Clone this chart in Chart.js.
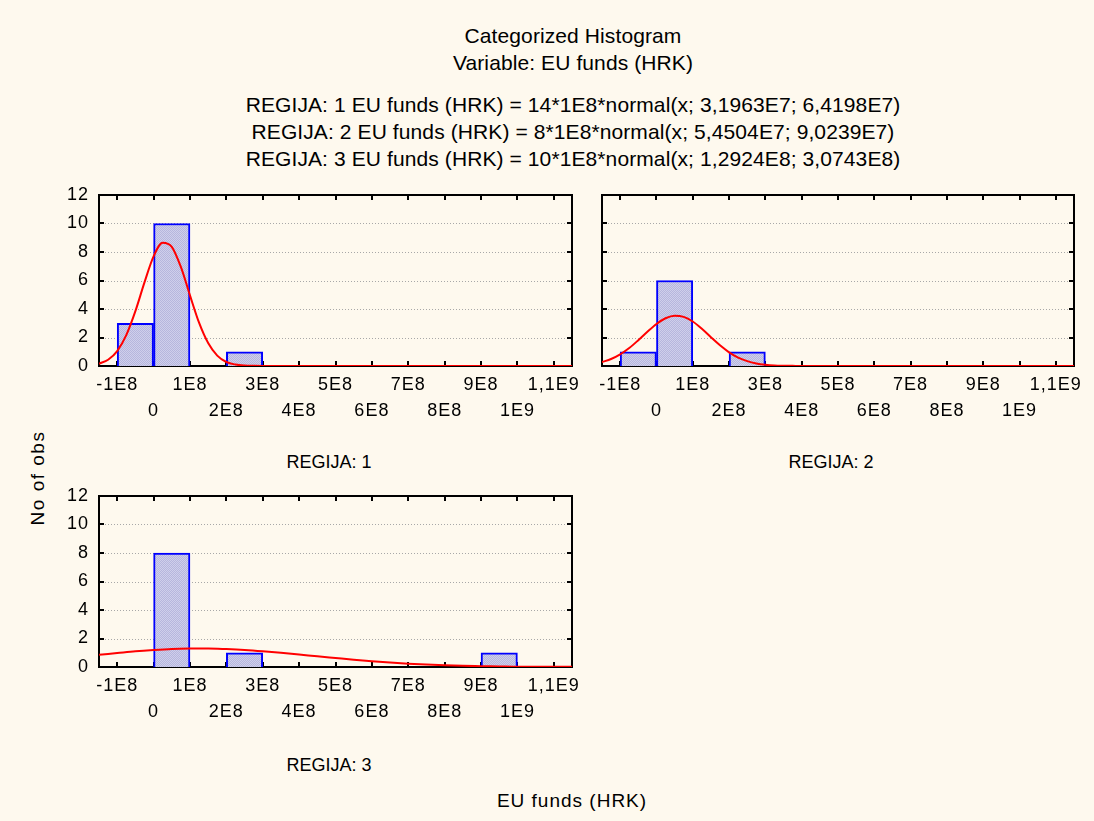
<!DOCTYPE html>
<html><head><meta charset="utf-8">
<script src="https://cdn.jsdelivr.net/npm/chart.js@4.4.0/dist/chart.umd.min.js"></script>
<style>
html,body{margin:0;padding:0;background:#FEF9EE;}
body{width:1094px;height:821px;position:relative;overflow:hidden;font-family:"Liberation Sans",Arial,sans-serif;color:#000;}
.t{position:absolute;white-space:nowrap;transform:translate(-50%,-50%);line-height:1;}
.title{font-size:21px;letter-spacing:0.1px;}
.lab{font-size:18px;}
.lab2{font-size:19px;letter-spacing:1px;}
canvas{position:absolute;}
</style></head><body>
<div class="t title" style="left:573px;top:35px;">Categorized Histogram</div>
<div class="t title" style="left:573px;top:62px;">Variable: EU funds (HRK)</div>
<div class="t title" style="left:573px;top:104px;">REGIJA: 1 EU funds (HRK) = 14*1E8*normal(x; 3,1963E7; 6,4198E7)</div>
<div class="t title" style="left:573px;top:131px;">REGIJA: 2 EU funds (HRK) = 8*1E8*normal(x; 5,4504E7; 9,0239E7)</div>
<div class="t title" style="left:573px;top:158px;">REGIJA: 3 EU funds (HRK) = 10*1E8*normal(x; 1,2924E8; 3,0743E8)</div>
<div class="t lab" style="left:329px;top:462px;">REGIJA: 1</div>
<div class="t lab" style="left:831px;top:462px;">REGIJA: 2</div>
<div class="t lab" style="left:329px;top:765px;">REGIJA: 3</div>
<div class="t lab2" style="left:572px;top:800px;">EU funds (HRK)</div>
<div class="t lab2" style="left:37px;top:478px;letter-spacing:1.5px;transform:translate(-50%,-50%) rotate(-90deg);">No of obs</div>
<canvas id="c1" width="580" height="280" style="left:20px;top:180px;width:580px;height:280px;"></canvas>
<canvas id="c2" width="571" height="280" style="left:523px;top:180px;width:571px;height:280px;"></canvas>
<canvas id="c3" width="580" height="280" style="left:20px;top:481px;width:580px;height:280px;"></canvas>
<script>
// ---- data ----
const binCenters = [-5e7, 5e7, 1.5e8, 2.5e8, 3.5e8, 4.5e8, 5.5e8, 6.5e8, 7.5e8, 8.5e8, 9.5e8, 1.05e9];
const counts1 = [3, 10, 0, 1, 0, 0, 0, 0, 0, 0, 0, 0];
const counts2 = [1, 6, 0, 1, 0, 0, 0, 0, 0, 0, 0, 0];
const counts3 = [0, 8, 0, 1, 0, 0, 0, 0, 0, 0, 1, 0];

const xTickValues = [-1e8, 0, 1e8, 2e8, 3e8, 4e8, 5e8, 6e8, 7e8, 8e8, 9e8, 1e9, 1.1e9];
const xTickLabels = ['-1E8', '0', '1E8', '2E8', '3E8', '4E8', '5E8', '6E8', '7E8', '8E8', '9E8', '1E9', '1,1E9'];
const yTickValues = [0, 2, 4, 6, 8, 10, 12];
const xMin = -1.5e8, xMax = 1.15e9, yMin = 0, yMax = 12;

// fitted normal curves
const curveX1 = [-1.5e8, -1.25e8, -1e8, -0.75e8, -0.5e8, -0.25e8, 0, 0.25e8, 0.5e8, 0.75e8, 1e8, 1.25e8, 1.5e8, 1.75e8, 2e8, 2.25e8, 2.5e8, 2.75e8, 3e8, 3.5e8, 1.15e9];
const curveY1 = [0.16, 0.44, 1.05, 2.17, 3.85, 5.87, 7.69, 8.65, 8.36, 6.95, 4.96, 3.04, 1.61, 0.73, 0.28, 0.10, 0.03, 0.01, 0, 0, 0];
const curveX2 = [-1.5e8, -1.25e8, -1e8, -0.75e8, -0.5e8, -0.25e8, 0, 0.25e8, 0.5e8, 0.75e8, 1e8, 1.25e8, 1.5e8, 1.75e8, 2e8, 2.25e8, 2.5e8, 2.75e8, 3e8, 3.25e8, 3.5e8, 3.75e8, 4e8, 1.15e9];
const curveY2 = [0.27, 0.49, 0.82, 1.26, 1.81, 2.40, 2.95, 3.35, 3.53, 3.45, 3.12, 2.61, 2.02, 1.45, 0.96, 0.59, 0.34, 0.18, 0.09, 0.04, 0.02, 0.01, 0, 0];
const curveX3 = [-1.5e8, -1e8, -0.5e8, 0, 0.5e8, 1e8, 1.5e8, 2e8, 2.5e8, 3e8, 3.5e8, 4e8, 4.5e8, 5e8, 5.5e8, 6e8, 6.5e8, 7e8, 7.5e8, 8e8, 8.5e8, 9e8, 9.5e8, 1e9, 1.05e9, 1.1e9, 1.15e9];
const curveY3 = [0.86, 0.98, 1.10, 1.19, 1.26, 1.29, 1.30, 1.26, 1.20, 1.11, 1.00, 0.88, 0.75, 0.63, 0.51, 0.40, 0.31, 0.23, 0.17, 0.12, 0.08, 0.06, 0.04, 0.02, 0.02, 0.01, 0.01];

// ---- styling helpers ----
const FONT = '"Liberation Sans", Arial, sans-serif';
const LS = '1px';

function makePattern() {
  const p = document.createElement('canvas');
  p.width = 2; p.height = 2;
  const g = p.getContext('2d');
  g.fillStyle = '#CFCFEB'; g.fillRect(0, 0, 2, 2);
  g.fillStyle = '#B6B6DD'; g.fillRect(0, 0, 1, 1); g.fillRect(1, 1, 1, 1);
  return g.createPattern(p, 'repeat');
}

const framePlugin = {
  id: 'frame',
  beforeLayout(chart) { chart.ctx.letterSpacing = LS; },
  beforeDraw(chart) { chart.ctx.letterSpacing = LS; },
  beforeDatasetsDraw(chart) {
    const ctx = chart.ctx, a = chart.chartArea, x = chart.scales.x, y = chart.scales.y;
    ctx.save();
    // dotted grid
    ctx.strokeStyle = '#A8A8A8'; ctx.lineWidth = 1; ctx.setLineDash([1, 2]);
    y.ticks.forEach(t => {
      if (t.value > y.min && t.value < y.max) {
        const py = Math.round(y.getPixelForValue(t.value)) + 0.5;
        ctx.beginPath(); ctx.moveTo(a.left, py); ctx.lineTo(a.right, py); ctx.stroke();
      }
    });
    ctx.setLineDash([]);
    // frame
    ctx.strokeStyle = '#000'; ctx.lineWidth = 2;
    ctx.strokeRect(a.left, a.top, a.right - a.left, a.bottom - a.top);
    // inward tick marks
    const L = 5;
    x.ticks.forEach(t => {
      const px = Math.round(x.getPixelForValue(t.value));
      ctx.beginPath();
      ctx.moveTo(px, a.top); ctx.lineTo(px, a.top + L);
      ctx.moveTo(px, a.bottom); ctx.lineTo(px, a.bottom - L);
      ctx.stroke();
    });
    y.ticks.forEach(t => {
      const py = Math.round(y.getPixelForValue(t.value));
      ctx.beginPath();
      ctx.moveTo(a.left, py); ctx.lineTo(a.left + L, py);
      ctx.moveTo(a.right, py); ctx.lineTo(a.right - L, py);
      ctx.stroke();
    });
    ctx.restore();
  }
};

function makePanel(id, counts, cx, cy, showY, padRight) {
  const pattern = makePattern();
  return new Chart(document.getElementById(id), {
    type: 'bar',
    data: {
      datasets: [
        {
          type: 'line',
          data: cx.map((v, i) => ({ x: v, y: cy[i] })),
          borderColor: '#FF0000', borderWidth: 2, pointRadius: 0,
          cubicInterpolationMode: 'monotone', fill: false
        },
        {
          type: 'bar',
          data: binCenters.map((v, i) => ({ x: v, y: counts[i] > 0 ? counts[i] : null })),
          backgroundColor: pattern, borderColor: '#0000FF', borderWidth: 2,
          borderSkipped: 'start', barPercentage: 1, categoryPercentage: 1
        }
      ]
    },
    options: {
      responsive: false, animation: false, devicePixelRatio: 1, events: [],
      layout: { padding: { top: 15, right: padRight, left: 0, bottom: 0 } },
      plugins: { legend: { display: false }, tooltip: { enabled: false }, title: { display: false } },
      scales: {
        x: {
          type: 'linear', min: xMin, max: xMax, offset: false,
          grid: { display: false, drawTicks: false, offset: false }, border: { display: false },
          afterBuildTicks: s => { s.ticks = xTickValues.map(v => ({ value: v })); },
          afterFit: s => { s.height = 94; s.paddingLeft = 0; s.paddingRight = 0; s.paddingTop = 0; s.paddingBottom = 0; },
          ticks: {
            autoSkip: false, maxRotation: 0, minRotation: 0, padding: 6, color: '#000',
            font: { family: FONT, size: 18, lineHeight: 1.45 },
            callback: (v, i) => (i % 2 === 0 ? [xTickLabels[i], ''] : ['', xTickLabels[i]])
          }
        },
        y: {
          min: yMin, max: yMax,
          grid: { display: false, drawTicks: false }, border: { display: false },
          afterBuildTicks: s => { s.ticks = yTickValues.map(v => ({ value: v })); },
          afterFit: s => { s.width = 79; s.paddingLeft = 0; s.paddingRight = 0; s.paddingTop = 0; s.paddingBottom = 0; },
          ticks: {
            display: showY, padding: 10, color: '#000',
            font: { family: FONT, size: 18 },
            callback: v => String(v)
          }
        }
      }
    },
    plugins: [framePlugin]
  });
}

makePanel('c1', counts1, curveX1, curveY1, true, 28);
makePanel('c2', counts2, curveX2, curveY2, false, 20);
makePanel('c3', counts3, curveX3, curveY3, true, 28);
</script>
</body></html>
